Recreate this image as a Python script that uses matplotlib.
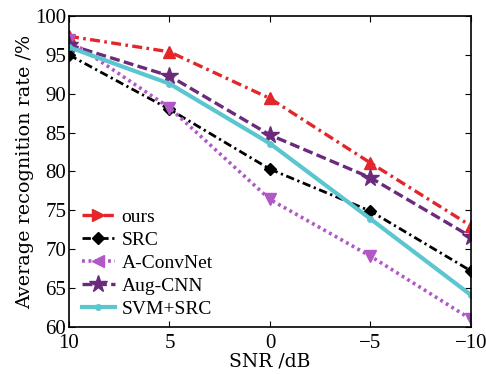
import matplotlib
matplotlib.use("Agg")
import matplotlib.pyplot as plt
from matplotlib.lines import Line2D

snr = [10, 5, 0, -5, -10]
snr_labels = ["10", "5", "0", "\u22125", "\u221210"]
ours = [97.4, 95.4, 89.4, 81.1, 73.0]
src = [95.0, 88.0, 80.3, 74.9, 67.2]
aconvnet = [96.9, 88.2, 76.4, 69.1, 61.0]
augcnn = [96.3, 92.3, 84.7, 79.2, 71.6]
svmsrc = [96.0, 91.3, 83.6, 73.9, 64.1]
names = ["ours", "SRC", "A-ConvNet", "Aug-CNN", "SVM+SRC"]

plt.rcParams["font.family"] = ["Liberation Serif", "DejaVu Serif"]

fig = plt.figure(figsize=(4.86, 3.74), dpi=100)
ax = fig.add_axes([0.142, 0.126, 0.827, 0.831])

dashdot = (0, (3, 1.3, 0.8, 1.3))
# (color, linestyle, linewidth, plot marker, marker size, legend marker)
styles = [
    ("#e3262b", dashdot, 2.4, "^", 9, ">"),
    ("black", dashdot, 2.0, "D", 6, "D"),
    ("#b158c6", (0, (0.8, 1.0)), 2.6, "v", 9, "<"),
    ("#6c2a7c", (0, (3, 1.3)), 2.4, "*", 13, "*"),
    ("#5cc6d0", "-", 3.0, "o", 4, "o"),
]

handles = []
for vals, name, (c, ls, lw, mk, ms, lmk) in zip(
        [ours, src, aconvnet, augcnn, svmsrc], names, styles):
    ax.plot(snr, vals, color=c, linestyle=ls, linewidth=lw,
            marker=mk, markersize=ms, markeredgewidth=1.0)
    handles.append(Line2D([], [], color=c, linestyle=ls, linewidth=lw,
                          marker=lmk, markersize=ms, label=name))

ax.set_xlim(10, -10)
ax.set_ylim(60, 100)
ax.set_xticks(snr)
ax.set_xticklabels(snr_labels)
ax.set_yticks(range(60, 101, 5))
ax.tick_params(direction="in", labelsize=15, top=True, right=True, length=4)
ax.tick_params(axis="x", pad=5)
ax.tick_params(axis="y", pad=2)
ax.set_xlabel("SNR /dB", fontsize=13.5, family="DejaVu Serif", labelpad=-0.5)
ax.set_ylabel("Average recognition rate /%", fontsize=13.8,
              family="DejaVu Serif", labelpad=1)
for s in ax.spines.values():
    s.set_linewidth(1.2)

ax.legend(handles=handles, loc="lower left", bbox_to_anchor=(0.01, 0.0),
          frameon=False, fontsize=14, handlelength=1.7, handletextpad=0.35,
          labelspacing=0.28, borderaxespad=0.05)

fig.savefig("out.png", dpi=100)
